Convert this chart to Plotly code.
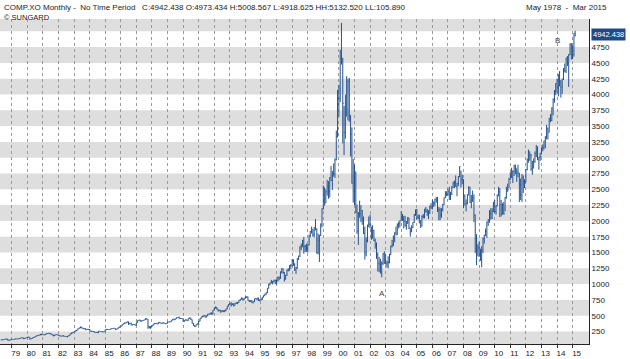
import pandas as pd
import plotly.graph_objects as go

# ---------------- data (monthly NASDAQ Composite, May 1978 - Mar 2015) ----------------
first_month = "1978-05-01"

open_by_year = [
    [115, 119, 118, 124, 131, 130, 111, 115],
    [118, 126, 123, 132, 133, 131, 137, 139, 150, 150, 136, 144],
    [151, 162, 158, 131, 140, 151, 158, 172, 182, 188, 193, 208],
    [202, 198, 198, 210, 217, 224, 216, 212, 197, 180, 194, 201],
    [196, 188, 178, 176, 184, 176, 171, 167, 176, 188, 213, 229],
    [232, 248, 261, 271, 293, 309, 319, 304, 292, 297, 276, 286],
    [279, 268, 253, 251, 247, 233, 240, 230, 256, 250, 247, 243],
    [247, 279, 284, 279, 281, 291, 296, 301, 298, 280, 293, 314],
    [325, 336, 360, 375, 383, 393, 406, 371, 383, 351, 361, 360],
    [349, 392, 424, 430, 418, 417, 425, 435, 455, 444, 323, 305],
    [330, 345, 367, 375, 379, 370, 395, 387, 377, 388, 383, 371],
    [381, 401, 400, 407, 428, 446, 435, 454, 469, 473, 456, 456],
    [455, 411, 426, 436, 420, 459, 462, 438, 381, 345, 330, 359],
    [374, 414, 453, 482, 485, 506, 476, 502, 526, 527, 543, 524],
    [586, 620, 634, 604, 579, 585, 564, 581, 563, 583, 605, 653],
    [677, 696, 671, 690, 661, 701, 704, 705, 743, 763, 779, 754],
    [777, 800, 793, 744, 734, 735, 706, 722, 766, 764, 778, 750],
    [752, 755, 794, 817, 844, 865, 933, 1001, 1020, 1044, 1036, 1059],
    [1052, 1060, 1100, 1101, 1191, 1243, 1185, 1081, 1142, 1227, 1222, 1293],
    [1291, 1380, 1309, 1222, 1261, 1400, 1442, 1594, 1587, 1686, 1594, 1601],
    [1570, 1619, 1771, 1836, 1868, 1779, 1895, 1872, 1499, 1694, 1771, 1950],
    [2193, 2506, 2288, 2461, 2543, 2471, 2686, 2639, 2739, 2746, 2966, 3336],
    [4069, 3940, 4697, 4573, 3861, 3401, 3966, 3767, 4206, 3673, 3370, 2598],
    [2471, 2773, 2152, 1840, 2116, 2111, 2161, 2027, 1805, 1499, 1690, 1931],
    [1950, 1934, 1731, 1845, 1688, 1616, 1463, 1328, 1315, 1172, 1330, 1479],
    [1336, 1321, 1338, 1341, 1464, 1596, 1623, 1735, 1810, 1787, 1932, 1960],
    [2003, 2066, 2030, 1994, 1920, 1987, 2048, 1887, 1838, 1897, 1975, 2097],
    [2175, 2062, 2052, 1999, 1922, 2068, 2057, 2185, 2152, 2152, 2120, 2233],
    [2205, 2306, 2281, 2340, 2323, 2179, 2172, 2092, 2184, 2258, 2367, 2432],
    [2415, 2464, 2416, 2422, 2525, 2605, 2603, 2546, 2596, 2702, 2859, 2661],
    [2652, 2390, 2272, 2279, 2413, 2523, 2293, 2326, 2368, 2092, 1721, 1536],
    [1577, 1476, 1378, 1529, 1717, 1774, 1835, 1979, 2009, 2122, 2045, 2145],
    [2269, 2147, 2238, 2398, 2461, 2257, 2109, 2255, 2114, 2369, 2507, 2498],
    [2653, 2700, 2782, 2781, 2874, 2835, 2774, 2756, 2580, 2415, 2684, 2620],
    [2605, 2814, 2967, 3092, 3046, 2827, 2935, 2940, 3067, 3116, 2977, 3010],
    [3020, 3142, 3160, 3268, 3329, 3456, 3403, 3626, 3590, 3772, 3920, 4060],
    [4177, 4104, 4308, 4199, 4115, 4243, 4408, 4370, 4580, 4493, 4631, 4792],
    [4736, 4635, 4973.434],
]

high_by_year = [
    [121, 122, 126, 134, 134, 132, 118, 120],
    [127, 128, 132, 135, 134, 138, 140, 151, 153, 151, 145, 152],
    [163, 166, 158, 141, 151, 159, 173, 183, 190, 196, 211, 210],
    [205, 200, 211, 219, 226, 226, 217, 213, 198, 196, 203, 206],
    [197, 191, 180, 186, 186, 177, 174, 178, 190, 216, 233, 235],
    [250, 263, 273, 296, 311, 329, 321, 306, 300, 299, 289, 290],
    [288, 268, 255, 254, 249, 242, 241, 257, 258, 253, 249, 248],
    [281, 290, 286, 285, 292, 297, 305, 302, 299, 294, 315, 326],
    [337, 361, 376, 391, 394, 407, 407, 384, 389, 363, 365, 365],
    [394, 425, 433, 436, 421, 426, 436, 456, 456, 444, 338, 335],
    [346, 368, 380, 383, 381, 396, 396, 388, 389, 392, 385, 382],
    [402, 406, 407, 428, 447, 452, 454, 470, 475, 486, 457, 458],
    [460, 428, 440, 437, 460, 469, 469, 440, 384, 351, 360, 376],
    [415, 460, 486, 500, 507, 508, 502, 526, 531, 544, 552, 587],
    [626, 645, 636, 605, 593, 591, 585, 584, 590, 609, 654, 679],
    [700, 712, 693, 693, 701, 707, 714, 743, 764, 787, 781, 778],
    [803, 805, 803, 746, 741, 744, 724, 767, 779, 781, 786, 754],
    [782, 796, 822, 846, 870, 935, 1006, 1022, 1067, 1048, 1069, 1070],
    [1070, 1120, 1120, 1200, 1250, 1249, 1190, 1145, 1230, 1250, 1300, 1317],
    [1390, 1390, 1330, 1270, 1410, 1450, 1597, 1640, 1700, 1746, 1620, 1640],
    [1630, 1780, 1840, 1910, 1870, 1900, 2030, 1880, 1800, 1780, 1960, 2200],
    [2560, 2530, 2500, 2650, 2630, 2690, 2870, 2790, 2910, 2990, 3430, 4070],
    [4150, 4700, 5132.52, 4580, 3820, 4000, 4290, 4250, 4260, 3670, 3480, 2980],
    [2890, 2780, 2260, 2140, 2320, 2250, 2170, 2070, 1910, 1740, 1940, 2070],
    [2100, 1910, 1930, 1860, 1720, 1660, 1500, 1430, 1400, 1360, 1490, 1520],
    [1470, 1370, 1440, 1480, 1610, 1700, 1770, 1820, 1910, 1960, 1990, 2010],
    [2154, 2110, 2080, 2080, 2000, 2060, 2050, 1890, 1930, 1980, 2110, 2180],
    [2190, 2100, 2100, 2010, 2090, 2110, 2190, 2220, 2190, 2170, 2240, 2280],
    [2340, 2300, 2350, 2380, 2380, 2220, 2210, 2200, 2270, 2370, 2470, 2470],
    [2510, 2540, 2460, 2550, 2620, 2640, 2720, 2600, 2710, 2860, 2800, 2730],
    [2660, 2420, 2340, 2420, 2550, 2540, 2410, 2480, 2420, 2100, 1790, 1630],
    [1670, 1560, 1600, 1740, 1780, 1880, 1990, 2030, 2170, 2200, 2200, 2300],
    [2330, 2250, 2420, 2540, 2520, 2330, 2280, 2300, 2380, 2540, 2590, 2680],
    [2770, 2840, 2800, 2890, 2890, 2830, 2890, 2760, 2670, 2740, 2720, 2660],
    [2820, 2990, 3130, 3100, 3060, 2950, 2990, 3100, 3200, 3180, 3010, 3080],
    [3160, 3210, 3270, 3340, 3520, 3480, 3630, 3690, 3800, 3940, 4070, 4180],
    [4250, 4320, 4370, 4230, 4250, 4420, 4490, 4580, 4610, 4640, 4810, 4815],
    [4780, 4970, 5008.567],
]

low_by_year = [
    [113, 115, 117, 122, 127, 108, 105.89, 113],
    [117, 122, 122, 129, 128, 130, 135, 138, 146, 130, 134, 143],
    [148, 155, 124, 128, 138, 149, 156, 170, 179, 185, 190, 190],
    [195, 192, 196, 208, 213, 212, 206, 193, 175, 178, 192, 193],
    [185, 176, 170, 175, 173, 168, 166, 159, 174, 186, 211, 221],
    [229, 246, 257, 268, 291, 302, 300, 286, 290, 274, 273, 277],
    [266, 245, 245, 243, 231, 230, 225, 229, 247, 245, 240, 238],
    [246, 276, 276, 277, 278, 289, 294, 294, 277, 279, 291, 313],
    [322, 334, 358, 371, 377, 390, 355, 366, 349, 349, 355, 347],
    [348, 390, 420, 406, 407, 415, 423, 432, 437, 292, 303, 292],
    [320, 343, 365, 369, 365, 369, 384, 372, 376, 381, 369, 370],
    [378, 398, 396, 405, 426, 430, 434, 452, 464, 451, 447, 451],
    [406, 406, 424, 418, 418, 454, 431, 375, 342, 322, 328, 356],
    [353, 409, 449, 477, 480, 471, 475, 490, 515, 520, 516, 521],
    [582, 614, 598, 564, 575, 547, 557, 558, 562, 569, 603, 646],
    [664, 645, 669, 645, 660, 687, 683, 703, 734, 755, 737, 746],
    [770, 780, 740, 716, 718, 702, 696, 718, 760, 745, 734, 727],
    [740, 750, 790, 810, 830, 860, 930, 980, 1010, 995, 1030, 1000],
    [990, 1040, 1060, 1080, 1170, 1160, 1040, 1070, 1130, 1200, 1210, 1240],
    [1280, 1290, 1210, 1160, 1240, 1380, 1430, 1540, 1590, 1480, 1510, 1510],
    [1500, 1610, 1740, 1800, 1750, 1740, 1850, 1480, 1470, 1350, 1760, 1900],
    [2180, 2240, 2280, 2400, 2350, 2370, 2630, 2490, 2700, 2680, 2960, 3320],
    [3650, 3880, 4474, 3227, 3042, 3300, 3650, 3590, 3570, 3020, 2590, 2290],
    [2250, 2120, 1794, 1619, 2050, 1980, 1940, 1790, 1387, 1440, 1660, 1900],
    [1880, 1700, 1720, 1680, 1560, 1400, 1200, 1190, 1170, 1108, 1300, 1320],
    [1310, 1260, 1250, 1330, 1460, 1580, 1600, 1660, 1770, 1780, 1880, 1900],
    [2000, 2000, 1880, 1910, 1860, 1950, 1870, 1751, 1820, 1890, 1970, 2080],
    [2020, 2030, 1960, 1890, 1910, 2040, 2040, 2130, 2080, 2030, 2110, 2190],
    [2180, 2220, 2240, 2290, 2140, 2010, 2010, 2050, 2150, 2250, 2360, 2390],
    [2400, 2330, 2330, 2410, 2520, 2520, 2540, 2390, 2550, 2690, 2530, 2580],
    [2200, 2240, 2150, 2260, 2400, 2280, 2200, 2300, 1980, 1490, 1300, 1440],
    [1430, 1370, 1266, 1490, 1640, 1760, 1730, 1920, 1970, 2020, 2030, 2140],
    [2130, 2100, 2230, 2390, 2060, 2070, 2100, 2100, 2150, 2350, 2460, 2520],
    [2650, 2680, 2600, 2710, 2740, 2620, 2690, 2300, 2330, 2300, 2440, 2520],
    [2610, 2800, 2920, 2950, 2790, 2730, 2830, 2920, 3010, 2960, 2810, 2950],
    [3050, 3100, 3130, 3150, 3290, 3290, 3400, 3560, 3580, 3670, 3870, 3990],
    [4030, 3970, 4130, 3950, 4010, 4230, 4350, 4340, 4450, 4120, 4620, 4550],
    [4560, 4600, 4918.625],
]

close_by_year = [
    [119, 118, 124, 131, 130, 111, 115, 118],
    [126, 123, 132, 133, 131, 137, 139, 150, 150, 136, 144, 151],
    [162, 158, 131, 140, 151, 158, 172, 182, 188, 193, 208, 202],
    [198, 198, 210, 217, 224, 216, 212, 197, 180, 194, 201, 196],
    [188, 178, 176, 184, 176, 171, 167, 176, 188, 213, 229, 232],
    [248, 261, 271, 293, 309, 319, 304, 292, 297, 276, 286, 279],
    [268, 253, 251, 247, 233, 240, 230, 256, 250, 247, 243, 247],
    [279, 284, 279, 281, 291, 296, 301, 298, 280, 293, 314, 325],
    [336, 360, 375, 383, 393, 406, 371, 383, 351, 361, 360, 349],
    [392, 424, 430, 418, 417, 425, 435, 455, 444, 323, 305, 330],
    [345, 367, 375, 379, 370, 395, 387, 377, 388, 383, 371, 381],
    [401, 400, 407, 428, 446, 435, 454, 469, 473, 456, 456, 455],
    [411, 426, 436, 420, 459, 462, 438, 381, 345, 330, 359, 374],
    [414, 453, 482, 485, 506, 476, 502, 526, 527, 543, 524, 586],
    [620, 634, 604, 579, 585, 564, 581, 563, 583, 605, 653, 677],
    [696, 671, 690, 661, 701, 704, 705, 743, 763, 779, 754, 777],
    [800, 793, 744, 734, 735, 706, 722, 766, 764, 778, 750, 752],
    [755, 794, 817, 844, 865, 933, 1001, 1020, 1044, 1036, 1059, 1052],
    [1060, 1100, 1101, 1191, 1243, 1185, 1081, 1142, 1227, 1222, 1293, 1291],
    [1380, 1309, 1222, 1261, 1400, 1442, 1594, 1587, 1686, 1594, 1601, 1570],
    [1619, 1771, 1836, 1868, 1779, 1895, 1872, 1499, 1694, 1771, 1950, 2193],
    [2506, 2288, 2461, 2543, 2471, 2686, 2639, 2739, 2746, 2966, 3336, 4069],
    [3940, 4697, 4573, 3861, 3401, 3966, 3767, 4206, 3673, 3370, 2598, 2471],
    [2773, 2152, 1840, 2116, 2111, 2161, 2027, 1805, 1499, 1690, 1931, 1950],
    [1934, 1731, 1845, 1688, 1616, 1463, 1328, 1315, 1172, 1330, 1479, 1336],
    [1321, 1338, 1341, 1464, 1596, 1623, 1735, 1810, 1787, 1932, 1960, 2003],
    [2066, 2030, 1994, 1920, 1987, 2048, 1887, 1838, 1897, 1975, 2097, 2175],
    [2062, 2052, 1999, 1922, 2068, 2057, 2185, 2152, 2152, 2120, 2233, 2205],
    [2306, 2281, 2340, 2323, 2179, 2172, 2092, 2184, 2258, 2367, 2432, 2415],
    [2464, 2416, 2422, 2525, 2605, 2603, 2546, 2596, 2702, 2859, 2661, 2652],
    [2390, 2272, 2279, 2413, 2523, 2293, 2326, 2368, 2092, 1721, 1536, 1577],
    [1476, 1378, 1529, 1717, 1774, 1835, 1979, 2009, 2122, 2045, 2145, 2269],
    [2147, 2238, 2398, 2461, 2257, 2109, 2255, 2114, 2369, 2507, 2498, 2653],
    [2700, 2782, 2781, 2874, 2835, 2774, 2756, 2580, 2415, 2684, 2620, 2605],
    [2814, 2967, 3092, 3046, 2827, 2935, 2940, 3067, 3116, 2977, 3010, 3020],
    [3142, 3160, 3268, 3329, 3456, 3403, 3626, 3590, 3772, 3920, 4060, 4177],
    [4104, 4308, 4199, 4115, 4243, 4408, 4370, 4580, 4493, 4631, 4792, 4736],
    [4635, 4964, 4942.438],
]

year_tick_labels = ["79", "80", "81", "82", "83", "84", "85", "86", "87", "88", "89",
                    "90", "91", "92", "93", "94", "95", "96", "97", "98", "99", "00",
                    "01", "02", "03", "04", "05", "06", "07", "08", "09", "10", "11",
                    "12", "13", "14", "15"]
year_tick_dates = [f"{1900 + int(t) if int(t) > 50 else 2000 + int(t)}-01-01" for t in year_tick_labels]

price_ticks = [250, 500, 750, 1000, 1250, 1500, 1750, 2000, 2250, 2500, 2750, 3000,
               3250, 3500, 3750, 4000, 4250, 4500, 4750, 5000]

marker_labels = ["A", "B"]
marker_dates = ["2002-10-01", "2014-01-01"]
marker_values = [1108, 4860]

last_close = 4942.438
header_text = ("COMP.XO Monthly -  No Time Period   C:4942.438 O:4973.434 H:5008.567 "
               "L:4918.625 HH:5132.520 LL:105.890")
period_text = "May 1978  -  Mar 2015"

# ---------------- build ----------------
flat = lambda rows: [v for r in rows for v in r]
opens, highs, lows, closes = map(flat, (open_by_year, high_by_year, low_by_year, close_by_year))
assert len(opens) == len(highs) == len(lows) == len(closes), (len(opens), len(highs), len(lows), len(closes))
months = pd.date_range(first_month, periods=len(closes), freq="MS")

BLUE = "#24528e"
fig = go.Figure()
fig.add_trace(go.Ohlc(
    x=months, open=opens, high=highs, low=lows, close=closes,
    increasing=dict(line=dict(color=BLUE, width=1)),
    decreasing=dict(line=dict(color=BLUE, width=1)),
    tickwidth=0.4, showlegend=False, hoverinfo="skip",
))

y_lo, y_hi = 52, 5195
shapes = []
band = 0
while band < y_hi:
    shapes.append(dict(type="rect", xref="paper", yref="y", x0=0, x1=1,
                       y0=band, y1=band + 250, fillcolor="#dedede",
                       line=dict(width=0), layer="below"))
    band += 500
fig.update_layout(shapes=shapes)

FONT = "Liberation Sans, Arial, sans-serif"
annotations = [
    dict(xref="paper", yref="paper", x=0.003, y=1.0, yshift=18, xanchor="left", yanchor="top",
         text=header_text, showarrow=False, font=dict(family=FONT, size=8, color="#222")),
    dict(xref="paper", yref="paper", x=0.003, y=1.0, yshift=8, xanchor="left", yanchor="top",
         text="© SUNGARD", showarrow=False, font=dict(family=FONT, size=7.5, color="#222")),
    dict(xref="paper", yref="paper", x=1.0, xshift=20, y=1.0, yshift=18, xanchor="right", yanchor="top",
         text=period_text, showarrow=False, font=dict(family=FONT, size=8, color="#222")),
    dict(xref="paper", yref="y", x=1.0, xshift=2, y=last_close, xanchor="left", yanchor="middle",
         text=f"{last_close:.3f}", showarrow=False, bgcolor="#1f4a84", borderpad=1,
         font=dict(family=FONT, size=7.5, color="white")),
]
for lab, d, v in zip(marker_labels, marker_dates, marker_values):
    annotations.append(dict(x=d, y=v, text=lab, showarrow=False,
                            yshift=-16 if lab == "A" else 0,
                            font=dict(family=FONT, size=8, color="#444")))
fig.update_layout(annotations=annotations)

fig.update_layout(
    width=630, height=359,
    margin=dict(l=0, r=41, t=19, b=15, autoexpand=False),
    paper_bgcolor="white", plot_bgcolor="white",
    xaxis=dict(
        type="date", range=["1978-04-02", "2016-01-20"],
        tickvals=year_tick_dates, ticktext=year_tick_labels,
        showgrid=True, gridcolor="#9a9a9a", gridwidth=1, griddash="dot",
        ticks="outside", ticklen=3, tickcolor="#333",
        showline=True, linecolor="#222", linewidth=1,
        tickfont=dict(family=FONT, size=8, color="#222"),
        ticklabelshift=4, ticklabelstandoff=-2, rangeslider=dict(visible=False),
        zeroline=False, fixedrange=True,
    ),
    yaxis=dict(
        side="right", range=[y_lo, y_hi], tickvals=price_ticks,
        showgrid=False, zeroline=False, ticks="",
        showline=True, linecolor="#222", linewidth=1,
        tickfont=dict(family=FONT, size=8, color="#222"),
        fixedrange=True,
    ),
)

fig.write_html("out.html", config={"displayModeBar": False},
               post_script="document.body.style.margin='0';")
